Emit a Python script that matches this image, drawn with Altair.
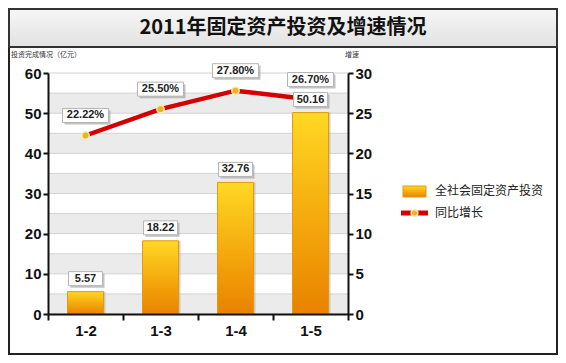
import altair as alt
import pandas as pd

# ---- data ----
months = ["1-2", "1-3", "1-4", "1-5"]
investment = [5.57, 18.22, 32.76, 50.16]
invest_labels = ["5.57", "18.22", "32.76", "50.16"]
growth = [22.22, 25.50, 27.80, 26.70]
growth_labels = ["22.22%", "25.50%", "27.80%", "26.70%"]
left_ticks = [0, 10, 20, 30, 40, 50, 60]
right_ticks = [0, 5, 10, 15, 20, 25, 30]
grid_values = [0, 5, 10, 15, 20, 25, 30, 35, 40, 45, 50, 55, 60]
band_starts = [0, 10, 20, 30, 40, 50]
band_ends = [5, 15, 25, 35, 45, 55]
legend_names = ["全社会固定资产投资", "同比增长"]
title_text = "2011年固定资产投资及增速情况"
left_title = "投资完成情况（亿元）"
right_title = "增速"

W, H = 300, 241
NUM_FONT = "Liberation Sans Narrow, Arial Narrow, Liberation Sans, sans-serif"
CJK_FONT = "Noto Sans CJK SC"

df = pd.DataFrame({"month": months, "investment": investment, "ilabel": invest_labels,
                   "growth": growth, "glabel": growth_labels})
grid_df = pd.DataFrame({"g": grid_values})
band_df = pd.DataFrame({"b0": band_starts, "b1": band_ends})
one = pd.DataFrame({"t": [title_text]})

x_enc = alt.X("month:N", sort=months,
              scale=alt.Scale(paddingInner=0, paddingOuter=0),
              axis=alt.Axis(title=None, labelAngle=0, tickBand="extent",
                            labelFont=NUM_FONT, labelFontSize=15, labelFontWeight="bold",
                            labelColor="#111", domainColor="#111", domainWidth=2,
                            tickColor="#111", tickWidth=2, tickSize=6, labelPadding=3,
                            grid=False, zindex=2))

left_scale = alt.Scale(domain=[0, 60], nice=False, zero=True)
right_scale = alt.Scale(domain=[0, 30], nice=False, zero=True)

axis_style = dict(labelFont=NUM_FONT, labelFontSize=15, labelFontWeight="bold",
                  labelColor="#111", domainColor="#111", domainWidth=2,
                  tickColor="#111", tickWidth=2, tickSize=5, labelPadding=2,
                  grid=False, title=None, zindex=2)
left_axis = alt.Axis(values=left_ticks, orient="left", **axis_style)
right_axis = alt.Axis(values=right_ticks, orient="right", **axis_style)

# ---- decorations (frame, title box) ----
outer = alt.Chart(one).mark_rect(fillOpacity=0, stroke="#222", strokeWidth=2).encode(
    x=alt.value(-39), x2=alt.value(509), y=alt.value(-64), y2=alt.value(281))
title_box = alt.Chart(one).mark_rect(
    fill=alt.Gradient(gradient="linear",
                      stops=[alt.GradientStop(color="#f6f6f6", offset=0),
                             alt.GradientStop(color="#e2e2e2", offset=1)],
                      x1=0, x2=0, y1=0, y2=1),
    stroke="#333", strokeWidth=2).encode(
    x=alt.value(-39), x2=alt.value(509), y=alt.value(-64), y2=alt.value(-26))
title = alt.Chart(one).mark_text(font=CJK_FONT, fontSize=20, fontWeight="bold",
                                 color="#111", align="center", baseline="middle").encode(
    x=alt.value(235), y=alt.value(-45), text="t:N")
ltitle = alt.Chart(pd.DataFrame({"t": [left_title]})).mark_text(
    font=CJK_FONT, fontSize=7, color="#333", align="left", baseline="middle").encode(
    x=alt.value(-37), y=alt.value(-18), text="t:N")
rtitle = alt.Chart(pd.DataFrame({"t": [right_title]})).mark_text(
    font=CJK_FONT, fontSize=7, color="#333", align="left", baseline="middle").encode(
    x=alt.value(297), y=alt.value(-18), text="t:N")

# ---- left (bars) ----
bands = alt.Chart(band_df).mark_rect(fill="#ebebeb").encode(
    x=alt.value(0), x2=alt.value(W),
    y=alt.Y("b0:Q", scale=left_scale, axis=left_axis), y2="b1:Q")
rules = alt.Chart(grid_df).mark_rule(color="#d2d2d2", strokeWidth=1).encode(
    x=alt.value(0), x2=alt.value(W),
    y=alt.Y("g:Q", scale=left_scale, axis=left_axis))
bar_shadow = alt.Chart(df).mark_bar(size=36, xOffset=2, color="#b0b0b0", opacity=0.6).encode(
    x=x_enc, y=alt.Y("investment:Q", scale=left_scale, axis=left_axis))
bars = alt.Chart(df).mark_bar(
    size=36,
    color=alt.Gradient(gradient="linear",
                       stops=[alt.GradientStop(color="#FFD824", offset=0),
                              alt.GradientStop(color="#F4A80C", offset=0.55),
                              alt.GradientStop(color="#E98200", offset=1)],
                       x1=0, x2=0, y1=0, y2=1),
    stroke="#E39A10", strokeWidth=1).encode(
    x=x_enc,
    y=alt.Y("investment:Q", scale=left_scale, axis=left_axis))
left = alt.layer(bands, rules, bar_shadow, bars)

# ---- right (line) ----
line = alt.Chart(df).mark_line(color="#D40000", strokeWidth=4.5).encode(
    x=x_enc,
    y=alt.Y("growth:Q", scale=right_scale, axis=right_axis))
pts = alt.Chart(df).mark_point(shape="circle", filled=True, fill="#EDB22A", stroke="#FFEBA8",
                               strokeWidth=1.5, size=55, opacity=1).encode(
    x=x_enc, y=alt.Y("growth:Q", scale=right_scale, axis=right_axis))
gshadow = alt.Chart(df).mark_bar(size=46, xOffset=2, yOffset=-11, y2Offset=-25,
                                 color="#9a9a9a", opacity=0.6).encode(
    x=x_enc, y=alt.Y("growth:Q", scale=right_scale, axis=right_axis), y2="growth:Q")
gbox = alt.Chart(df).mark_bar(size=46, yOffset=-13, y2Offset=-27,
                              color="white", stroke="#b5b5b5", strokeWidth=1).encode(
    x=x_enc, y=alt.Y("growth:Q", scale=right_scale, axis=right_axis), y2="growth:Q")
gtext = alt.Chart(df).mark_text(dy=-20, font=NUM_FONT, fontSize=11, fontWeight="bold",
                                color="#222", baseline="middle").encode(
    x=x_enc, y=alt.Y("growth:Q", scale=right_scale, axis=right_axis), text="glabel:N")
right = alt.layer(line, pts, gshadow, gbox, gtext)

# ---- bar labels (drawn on top) ----
ishadow = alt.Chart(df).mark_bar(size=34, xOffset=2, yOffset=-4, y2Offset=-18,
                                 color="#9a9a9a", opacity=0.6).encode(
    x=x_enc, y=alt.Y("investment:Q", scale=left_scale, axis=None), y2="investment:Q")
ibox = alt.Chart(df).mark_bar(size=34, yOffset=-6, y2Offset=-20,
                              color="white", stroke="#b5b5b5", strokeWidth=1).encode(
    x=x_enc, y=alt.Y("investment:Q", scale=left_scale, axis=None), y2="investment:Q")
itext = alt.Chart(df).mark_text(dy=-13, font=NUM_FONT, fontSize=11, fontWeight="bold",
                                color="#222", baseline="middle").encode(
    x=x_enc, y=alt.Y("investment:Q", scale=left_scale, axis=None), text="ilabel:N")
labels = alt.layer(ishadow, ibox, itext)

# ---- legend ----
leg_bar = alt.Chart(one).mark_rect(
    fill=alt.Gradient(gradient="linear",
                      stops=[alt.GradientStop(color="#FFD824", offset=0),
                             alt.GradientStop(color="#E98200", offset=1)],
                      x1=0, x2=0, y1=0, y2=1),
    stroke="#E39A10", strokeWidth=1).encode(
    x=alt.value(355), x2=alt.value(378), y=alt.value(113), y2=alt.value(124))
leg_line = alt.Chart(one).mark_rule(color="#D40000", strokeWidth=5).encode(
    x=alt.value(353), x2=alt.value(380), y=alt.value(140))
leg_dot = alt.Chart(one).mark_point(shape="circle", filled=True, fill="#EDB22A",
                                    stroke="#FFEBA8", strokeWidth=1.5, size=45,
                                    opacity=1).encode(x=alt.value(366.5), y=alt.value(140))
leg_t1 = alt.Chart(pd.DataFrame({"t": [legend_names[0]]})).mark_text(
    font=CJK_FONT, fontSize=12, color="#222", align="left", baseline="middle").encode(
    x=alt.value(387), y=alt.value(118), text="t:N")
leg_t2 = alt.Chart(pd.DataFrame({"t": [legend_names[1]]})).mark_text(
    font=CJK_FONT, fontSize=12, color="#222", align="left", baseline="middle").encode(
    x=alt.value(387), y=alt.value(140), text="t:N")

chart = alt.layer(
    outer, title_box, title, ltitle, rtitle,
    left, right, labels,
    leg_bar, leg_line, leg_dot, leg_t1, leg_t2
).resolve_scale(y="independent").properties(
    width=W, height=H,
    autosize=alt.AutoSizeParams(type="none"),
    padding={"left": 40, "top": 65, "right": 210, "bottom": 41},
    background="white",
).configure_view(stroke=None)

chart.save("out.html", embed_options={"renderer": "svg", "actions": False})
